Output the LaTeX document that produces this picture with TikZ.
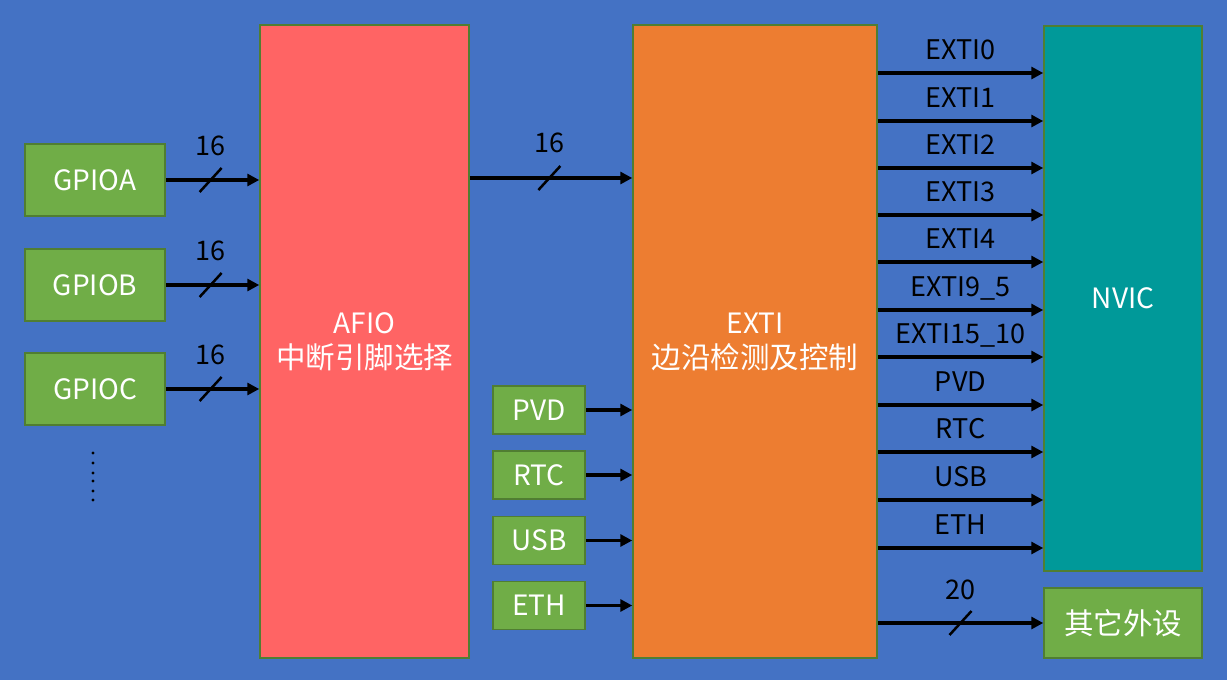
\documentclass[tikz,border=0pt]{standalone}
\usepackage{fontspec}
\setmainfont{Noto Sans CJK SC}
\usetikzlibrary{arrows.meta}
\definecolor{bg}{HTML}{4472C4}
\definecolor{grn}{HTML}{70AD47}
\definecolor{bord}{HTML}{507E32}
\definecolor{afioc}{HTML}{FF6464}
\definecolor{extic}{HTML}{ED7D31}
\definecolor{nvicc}{HTML}{009999}
\newcommand\bigf{\fontsize{28}{35}\selectfont}
\newcommand\cjkf{\fontsize{29.5}{35}\selectfont}
\newcommand\lblf{\fontsize{27}{32}\selectfont}
\begin{document}
\begin{tikzpicture}[x=1pt,y=-1pt,
  box/.style={draw=bord, line width=1.5pt, inner sep=0pt, align=center, text=white, font=\bigf},
  gbox/.style={box, fill=grn},
  arr/.style={line width=3.8pt, -{Triangle[length=12pt,width=12pt]}},
  slash/.style={line width=2.5pt},
  lbl/.style={font=\lblf, text=black, inner sep=0pt}]
\useasboundingbox[fill=bg] (0,0) rectangle (1227,680);

% left GPIO boxes
\node[gbox, minimum width=140pt, minimum height=72pt] (ga) at (95,180) {GPIOA};
\node[gbox, minimum width=140pt, minimum height=72pt] (gb) at (95,285) {GPIOB};
\node[gbox, minimum width=140pt, minimum height=72pt] (gc) at (95,389) {GPIOC};

% big blocks
\node[box, fill=afioc, minimum width=209pt, minimum height=633pt] (afio) at (364.5,341.5) {AFIO\\{\cjkf 中断引脚选择}};
\node[box, fill=extic, minimum width=244pt, minimum height=633pt] (exti) at (755,341.5) {EXTI\\{\cjkf 边沿检测及控制}};
\node[box, fill=nvicc, minimum width=158pt, minimum height=545pt] (nvic) at (1123,298.5) {NVIC};
\node[gbox, minimum width=158pt, minimum height=70pt] (oth) at (1123,623) {{\cjkf 其它外设}};

% small sources
\node[gbox, minimum width=92pt, minimum height=48pt] (pvd) at (539,410) {PVD};
\node[gbox, minimum width=92pt, minimum height=48pt] (rtc) at (539,475) {RTC};
\node[gbox, minimum width=92pt, minimum height=48pt] (usb) at (539,540.5) {USB};
\node[gbox, minimum width=92pt, minimum height=48pt] (eth) at (539,605.5) {ETH};

% GPIO buses
\foreach \g/\m in {ga/ma,gb/mb,gc/mc}{
  \draw[arr] (\g) -- (\g -| afio.west) coordinate[pos=0.48] (\m);
  \draw[slash] (\m) ++(-11,12) -- ++(22,-24);
  \node[lbl, anchor=base] at ([yshift=25pt]\m) {16};
}

% AFIO -> EXTI bus
\coordinate (hb) at (0,178);
\draw[arr] (afio.east |- hb) -- (exti.west |- hb) coordinate[pos=0.49] (md);
\draw[slash] (md) ++(-11,12) -- ++(22,-24);
\node[lbl, anchor=base] at ([yshift=26pt]md) {16};

% small sources -> EXTI
\foreach \s in {pvd,rtc,usb,eth}{
  \draw[arr] (\s) -- (\s -| exti.west);
}

% EXTI -> NVIC lines
\foreach \t/\y in {EXTI0/73, EXTI1/121, EXTI2/168, EXTI3/215, EXTI4/262, EXTI9\_5/310, EXTI15\_10/357, PVD/405, RTC/452, USB/500, ETH/548}{
  \coordinate (h) at (0,\y);
  \draw[arr] (exti.east |- h) -- (nvic.west |- h)
    node[lbl, pos=0.5, anchor=base, yshift=14pt] {\t};
}

% EXTI -> other peripherals bus
\draw[arr] (exti.east |- oth) -- (oth) coordinate[pos=0.5] (mo);
\draw[slash] (mo) ++(-11,12) -- ++(22,-24);
\node[lbl, anchor=base] at ([yshift=24pt]mo) {20};

% ellipsis dots
\foreach \y in {453,463,473,481,491,500}{
  \fill (93,\y) circle (1.7pt);
}
\end{tikzpicture}
\end{document}
